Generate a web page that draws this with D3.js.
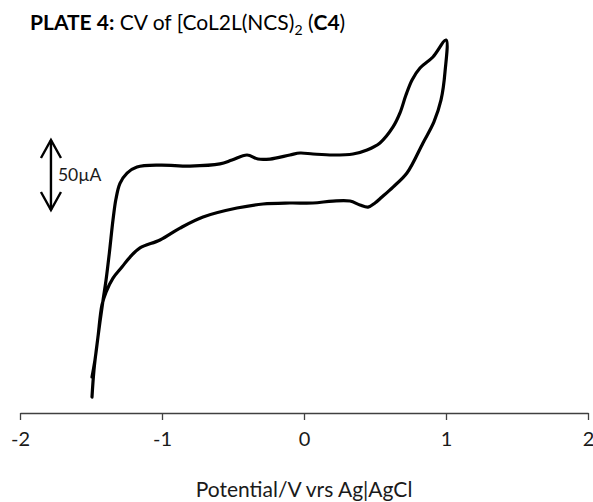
<!DOCTYPE html>
<html lang="en">
<head>
<meta charset="UTF-8">
<title>PLATE 4: CV of [CoL2L(NCS)2 (C4)</title>
<script src="https://d3js.org/d3.v7.min.js"></script>
<style>
  body { margin: 0; background: #fff; }
  svg { display: block; font-family: Lato, 'Open Sans', sans-serif; }
</style>
</head>
<body>
<svg id="chart" width="593" height="502"></svg>
<script>
// ---- data ----
// forward sweep: -1.5 V -> +1.0 V (upper trace)
const forwardV = [-1.493, -1.479, -1.451, -1.415, -1.394, -1.370, -1.345, -1.324, -1.296, -1.246,
                  -1.176, -1.014, -0.803, -0.592, -0.507, -0.401, -0.324, -0.239, -0.099, -0.028,
                  0.063, 0.204, 0.345, 0.444, 0.535, 0.627, 0.676, 0.718, 0.761, 0.817, 0.908, 1.0];
const forwardI = [-138.6, -119.3, -95.7, -69.3, -55, -35, -12, 3, 14, 21.4,
                  25.7, 27.1, 26.4, 27.9, 30.7, 34.3, 31.4, 31.4, 34.3, 35.7,
                  35, 34.3, 35, 37.9, 42.9, 54.3, 64.3, 77.1, 87.9, 96.4, 104.3, 116.4];
// reverse sweep: +1.0 V -> -1.5 V (lower trace)
const reverseV = [1.0, 0.993, 0.965, 0.915, 0.838, 0.725, 0.627, 0.549, 0.5, 0.451,
                  0.394, 0.324, 0.204, 0.063, -0.099, -0.289, -0.472, -0.711, -0.873, -1.014,
                  -1.155, -1.225, -1.282, -1.345, -1.394, -1.423, -1.451, -1.472, -1.493];
const reverseI = [116.4, 93.6, 73.6, 57.9, 42.9, 21.4, 11.4, 4.3, 0, -2.9,
                  -1.4, 1.4, 1.4, 0, 0, -0.7, -3.6, -10, -17.9, -26.4,
                  -32.1, -38.6, -45.7, -53.6, -63.6, -72.9, -95.7, -112.1, -124.3];
const xTicks = [-2, -1, 0, 1, 2];
const scaleBar = { v: -1.782, from: -5, to: 45, label: "50\u00b5A" };

// ---- scales ----
const svg = d3.select('#chart');
const x = d3.scaleLinear().domain([-2, 2]).range([20, 588]);
const y = d3.scaleLinear().domain([-150, 130]).range([413, 21]);

// ---- axis ----
const axis = svg.append('g')
    .attr('transform', `translate(0,${y(-150)})`)
    .call(d3.axisBottom(x).tickValues(xTicks).tickSize(7).tickSizeOuter(0).tickFormat(d => String(d)));
axis.select('.domain').attr('stroke', '#404040').attr('stroke-width', 1.3);
axis.selectAll('.tick line').attr('stroke', '#404040').attr('stroke-width', 1.3);
axis.selectAll('.tick text')
    .attr('y', 19).attr('dy', '0.71em')
    .attr('font-size', 20).attr('font-family', 'Lato, sans-serif').attr('fill', '#1a1a1a');

svg.append('text')
    .attr('x', 304).attr('y', 497)
    .attr('text-anchor', 'middle')
    .attr('font-size', 21).attr('fill', '#1a1a1a')
    .text('Potential/V vrs Ag|AgCl');

// ---- voltammogram ----
const pts = forwardV.map((v, i) => [v, forwardI[i]])
    .concat(reverseV.slice(1).map((v, i) => [v, reverseI[i + 1]]));
const line = d3.line().x(d => x(d[0])).y(d => y(d[1])).curve(d3.curveCatmullRom.alpha(0.5));
svg.append('path')
    .attr('d', line(pts))
    .attr('fill', 'none')
    .attr('stroke', '#000')
    .attr('stroke-width', 3.2)
    .attr('stroke-linejoin', 'round')
    .attr('stroke-linecap', 'round');

// ---- 50 uA scale bar ----
const bx = x(scaleBar.v), bTop = y(scaleBar.to), bBot = y(scaleBar.from);
const bar = svg.append('g').attr('stroke', '#000').attr('stroke-width', 2.4).attr('fill', 'none');
bar.append('line').attr('x1', bx).attr('x2', bx).attr('y1', bTop).attr('y2', bBot);
bar.append('path').attr('d', `M${bx - 10},${bTop + 18}L${bx},${bTop}L${bx + 10},${bTop + 18}`);
bar.append('path').attr('d', `M${bx - 10},${bBot - 18}L${bx},${bBot}L${bx + 10},${bBot - 18}`);
svg.append('text')
    .attr('x', bx + 7).attr('y', (bTop + bBot) / 2 + 6)
    .attr('font-size', 17.5).attr('fill', '#1a1a1a')
    .text(scaleBar.label);

// ---- title ----
const title = svg.append('text').attr('x', 30).attr('y', 30).attr('font-size', 21).attr('fill', '#000');
title.append('tspan').attr('font-weight', 'bold').text('PLATE 4:');
title.append('tspan').text(' CV of [CoL2L(NCS)');
title.append('tspan').attr('font-size', 14).attr('dy', 5).text('2');
title.append('tspan').attr('dy', -5).text(' (');
title.append('tspan').attr('font-weight', 'bold').text('C4');
title.append('tspan').text(')');
</script>
</body>
</html>
